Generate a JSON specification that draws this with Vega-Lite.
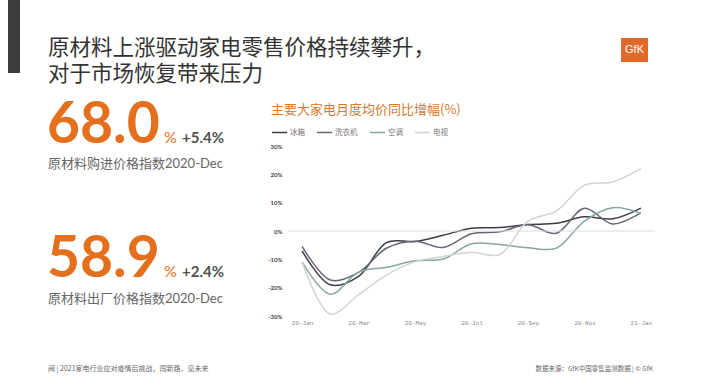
{
  "$schema": "https://vega.github.io/schema/vega-lite/v6.json",
  "width": 367,
  "height": 170,
  "autosize": {"type": "none"},
  "padding": {"left": 288, "top": 146, "right": 46, "bottom": 76},
  "background": "#ffffff",
  "config": {"view": {"stroke": null}, "font": "Lato, Noto Sans CJK SC", "axis": {"labelOverlap": false}, "axisY": {"labelOverlap": false, "labelSeparation": 0}},
  "datasets": {
    "series": [
      {"s": "冰箱", "m": "20-Jan", "v": -7}, {"s": "冰箱", "m": "20-Feb", "v": -19}, {"s": "冰箱", "m": "20-Mar", "v": -16},
      {"s": "冰箱", "m": "20-Apr", "v": -4}, {"s": "冰箱", "m": "20-May", "v": -3.7}, {"s": "冰箱", "m": "20-Jun", "v": -1.5},
      {"s": "冰箱", "m": "20-Jul", "v": 1}, {"s": "冰箱", "m": "20-Aug", "v": 1.2}, {"s": "冰箱", "m": "20-Sep", "v": 2.3},
      {"s": "冰箱", "m": "20-Oct", "v": 2.7}, {"s": "冰箱", "m": "20-Nov", "v": 5}, {"s": "冰箱", "m": "20-Dec", "v": 4.3},
      {"s": "冰箱", "m": "21-Jan", "v": 8.1},
      {"s": "洗衣机", "m": "20-Jan", "v": -5.4}, {"s": "洗衣机", "m": "20-Feb", "v": -17.3}, {"s": "洗衣机", "m": "20-Mar", "v": -14.6},
      {"s": "洗衣机", "m": "20-Apr", "v": -6}, {"s": "洗衣机", "m": "20-May", "v": -3.6}, {"s": "洗衣机", "m": "20-Jun", "v": -5.8},
      {"s": "洗衣机", "m": "20-Jul", "v": -1}, {"s": "洗衣机", "m": "20-Aug", "v": -0.3}, {"s": "洗衣机", "m": "20-Sep", "v": 2.2},
      {"s": "洗衣机", "m": "20-Oct", "v": -0.8}, {"s": "洗衣机", "m": "20-Nov", "v": 8}, {"s": "洗衣机", "m": "20-Dec", "v": 2.5},
      {"s": "洗衣机", "m": "21-Jan", "v": 6.4},
      {"s": "空调", "m": "20-Jan", "v": -11}, {"s": "空调", "m": "20-Feb", "v": -22.3}, {"s": "空调", "m": "20-Mar", "v": -14.5},
      {"s": "空调", "m": "20-Apr", "v": -12.8}, {"s": "空调", "m": "20-May", "v": -10.5}, {"s": "空调", "m": "20-Jun", "v": -9.9},
      {"s": "空调", "m": "20-Jul", "v": -4.5}, {"s": "空调", "m": "20-Aug", "v": -4.8}, {"s": "空调", "m": "20-Sep", "v": -5.9},
      {"s": "空调", "m": "20-Oct", "v": -6.1}, {"s": "空调", "m": "20-Nov", "v": 3.5}, {"s": "空调", "m": "20-Dec", "v": 8.2},
      {"s": "空调", "m": "21-Jan", "v": 6.2},
      {"s": "电视", "m": "20-Jan", "v": -11}, {"s": "电视", "m": "20-Feb", "v": -29.3}, {"s": "电视", "m": "20-Mar", "v": -22.5},
      {"s": "电视", "m": "20-Apr", "v": -15.5}, {"s": "电视", "m": "20-May", "v": -10.8}, {"s": "电视", "m": "20-Jun", "v": -9},
      {"s": "电视", "m": "20-Jul", "v": -7.5}, {"s": "电视", "m": "20-Aug", "v": -8.3}, {"s": "电视", "m": "20-Sep", "v": 3.5},
      {"s": "电视", "m": "20-Oct", "v": 7}, {"s": "电视", "m": "20-Nov", "v": 16.2}, {"s": "电视", "m": "20-Dec", "v": 17.3},
      {"s": "电视", "m": "21-Jan", "v": 22}
    ]
  },
  "layer": [
    {
      "data": {"name": "series"},
      "mark": {"type": "line", "interpolate": "catmull-rom", "strokeWidth": 1.5},
      "encoding": {
        "x": {
          "field": "m", "type": "ordinal",
          "scale": {"type": "point", "padding": 0.5, "domain": ["20-Jan","20-Feb","20-Mar","20-Apr","20-May","20-Jun","20-Jul","20-Aug","20-Sep","20-Oct","20-Nov","20-Dec","21-Jan"]},
          "axis": {"values": ["20-Jan","20-Mar","20-May","20-Jul","20-Sep","20-Nov","21-Jan"], "title": null, "domain": false, "ticks": false, "labelAngle": 0, "labelOverlap": false, "labelFont": "Liberation Mono", "labelFontSize": 6, "labelColor": "#888888", "labelPadding": 3}
        },
        "y": {
          "field": "v", "type": "quantitative",
          "scale": {"domain": [-30, 30], "nice": false},
          "axis": {"tickCount": 6, "title": null, "grid": false, "domain": false, "ticks": false, "labelOverlap": false, "labelExpr": "datum.value + '%'", "labelFont": "Lato", "labelFontSize": 6, "labelFontWeight": "bold", "labelColor": "#444444", "labelPadding": 6}
        },
        "color": {
          "field": "s", "type": "nominal",
          "scale": {"domain": ["冰箱","洗衣机","空调","电视"], "range": ["#3c3c46","#626877","#86a6a2","#cdd6d3"]},
          "legend": {"orient": "none", "legendX": -17, "legendY": -22, "direction": "horizontal", "title": null, "symbolType": "stroke", "symbolSize": 225, "symbolStrokeWidth": 1.5, "labelFont": "Noto Sans CJK SC", "labelFontSize": 7.5, "labelColor": "#777777", "labelOffset": 2, "columnPadding": 9}
        }
      }
    },
    {
      "data": {"values": [{}]},
      "mark": {"type": "rule", "color": "#dcdcdc", "strokeWidth": 1},
      "encoding": {"y": {"datum": 0, "type": "quantitative"}}
    },
    {"data": {"values": [{}]}, "mark": {"type": "rule", "x": -25, "x2": -25, "y": -26, "y2": 179, "color": "#f2d6bf", "strokeWidth": 1}, "encoding": {}},
    {"data": {"values": [{}]}, "mark": {"type": "rule", "x": -25, "x2": -25, "y": -43, "y2": -26, "color": "#d9782d", "strokeWidth": 3}, "encoding": {}},
    {"data": {"values": [{}]}, "mark": {"type": "text", "text": "主要大家电月度均价同比增幅(%)", "x": -17, "y": -36, "align": "left", "baseline": "middle", "font": "Noto Sans CJK SC", "fontSize": 13, "color": "#d9782d"}},
    {"data": {"values": [{}]}, "mark": {"type": "rect", "x": -280, "x2": -268, "y": -146, "y2": -73, "color": "#3d3d3d"}},
    {"data": {"values": [{}]}, "mark": {"type": "text", "text": "原材料上涨驱动家电零售价格持续攀升，", "x": -240, "y": -91, "align": "left", "baseline": "alphabetic", "font": "Noto Sans CJK SC", "fontSize": 21.5, "color": "#333333"}},
    {"data": {"values": [{}]}, "mark": {"type": "text", "text": "对于市场恢复带来压力", "x": -240, "y": -65, "align": "left", "baseline": "alphabetic", "font": "Noto Sans CJK SC", "fontSize": 21.5, "color": "#333333"}},
    {"data": {"values": [{}]}, "mark": {"type": "rect", "x": 333, "x2": 360, "y": -108, "y2": -84, "color": "#e2692a"}},
    {"data": {"values": [{}]}, "mark": {"type": "text", "text": "GfK", "x": 346.5, "y": -96, "align": "center", "baseline": "middle", "font": "Liberation Sans", "fontSize": 11, "color": "#ffffff"}},
    {"data": {"values": [{}]}, "mark": {"type": "text", "text": "68.0", "x": -241, "y": -3, "align": "left", "baseline": "alphabetic", "font": "Lato", "fontWeight": "bold", "fontSize": 57, "color": "#e4701e"}},
    {"data": {"values": [{}]}, "mark": {"type": "text", "text": "%", "x": -124, "y": -3, "align": "left", "baseline": "alphabetic", "font": "Lato", "fontSize": 16, "color": "#e4701e"}},
    {"data": {"values": [{}]}, "mark": {"type": "text", "text": "+5.4%", "x": -106, "y": -3, "align": "left", "baseline": "alphabetic", "font": "Lato", "fontWeight": "bold", "fontSize": 15, "color": "#505050"}},
    {"data": {"values": [{}]}, "mark": {"type": "text", "text": "原材料购进价格指数2020-Dec", "x": -240, "y": 18, "align": "left", "baseline": "middle", "font": "Lato, Noto Sans CJK SC", "fontSize": 13, "color": "#666666"}},
    {"data": {"values": [{}]}, "mark": {"type": "text", "text": "58.9", "x": -241, "y": 131, "align": "left", "baseline": "alphabetic", "font": "Lato", "fontWeight": "bold", "fontSize": 57, "color": "#e4701e"}},
    {"data": {"values": [{}]}, "mark": {"type": "text", "text": "%", "x": -124, "y": 131, "align": "left", "baseline": "alphabetic", "font": "Lato", "fontSize": 16, "color": "#e4701e"}},
    {"data": {"values": [{}]}, "mark": {"type": "text", "text": "+2.4%", "x": -106, "y": 131, "align": "left", "baseline": "alphabetic", "font": "Lato", "fontWeight": "bold", "fontSize": 15, "color": "#505050"}},
    {"data": {"values": [{}]}, "mark": {"type": "text", "text": "原材料出厂价格指数2020-Dec", "x": -240, "y": 153, "align": "left", "baseline": "middle", "font": "Lato, Noto Sans CJK SC", "fontSize": 13, "color": "#666666"}},
    {"data": {"values": [{}]}, "mark": {"type": "text", "text": "阀 | 2021家电行业应对疫情后挑战，闯新路，见未来", "x": -240, "y": 223, "align": "left", "baseline": "middle", "font": "Noto Sans CJK SC", "fontSize": 7, "color": "#666666"}},
    {"data": {"values": [{}]}, "mark": {"type": "text", "text": "数据来源：GfK中国零售监测数据 | © GfK", "x": 365, "y": 223, "align": "right", "baseline": "middle", "font": "Noto Sans CJK SC", "fontSize": 6.5, "color": "#666666"}}
  ]
}
